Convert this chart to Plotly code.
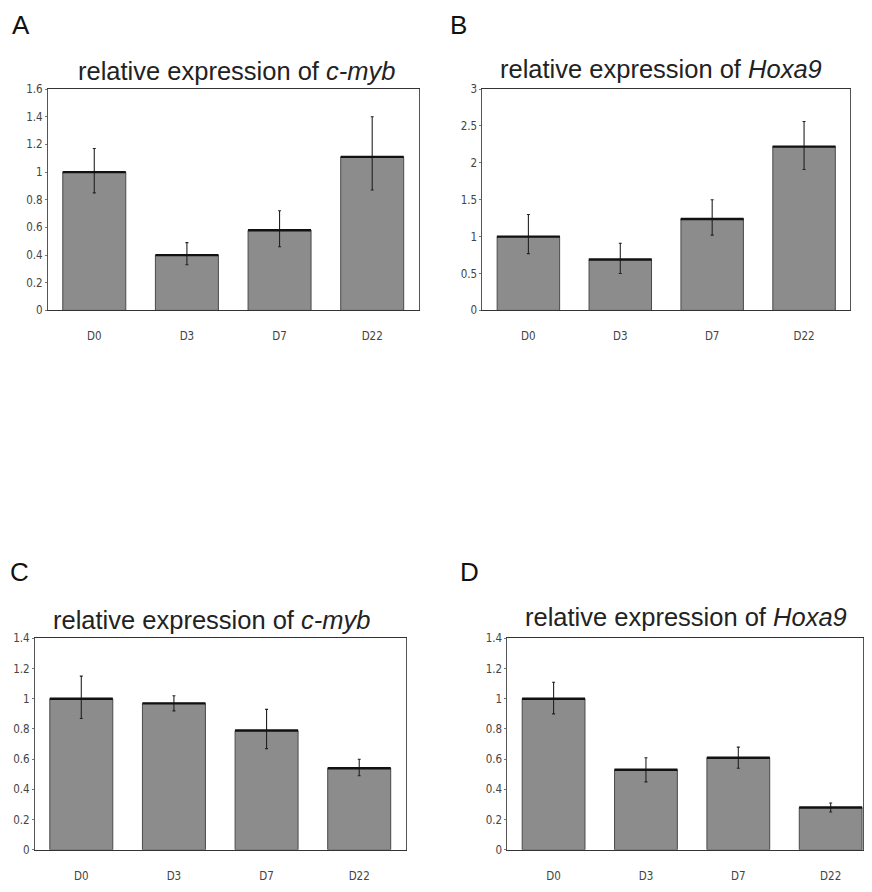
import plotly.graph_objects as go

# page offset from the default 8px body margin
OFF = 8
W, H = 872 - 2 * OFF, 892 - 2 * OFF
VS = 0.987  # empirical vertical correction

days = ["D0", "D3", "D7", "D22"]

# Panel A: c-myb
a_vals = [1.00, 0.40, 0.58, 1.11]
a_plus = [0.17, 0.09, 0.14, 0.29]
a_minus = [0.15, 0.07, 0.12, 0.24]
# Panel B: Hoxa9
b_vals = [1.00, 0.69, 1.24, 2.22]
b_plus = [0.30, 0.22, 0.26, 0.34]
b_minus = [0.23, 0.19, 0.22, 0.31]
# Panel C: c-myb
c_vals = [1.00, 0.97, 0.79, 0.54]
c_plus = [0.15, 0.05, 0.14, 0.06]
c_minus = [0.13, 0.05, 0.12, 0.05]
# Panel D: Hoxa9
d_vals = [1.00, 0.53, 0.61, 0.28]
d_plus = [0.11, 0.08, 0.07, 0.03]
d_minus = [0.10, 0.08, 0.07, 0.03]

a_ticks = [0, 0.2, 0.4, 0.6, 0.8, 1, 1.2, 1.4, 1.6]
b_ticks = [0, 0.5, 1, 1.5, 2, 2.5, 3]
cd_ticks = [0, 0.2, 0.4, 0.6, 0.8, 1, 1.2, 1.4]

titles = ["relative expression of <i>c-myb</i>", "relative expression of <i>Hoxa9</i>",
          "relative expression of <i>c-myb</i>", "relative expression of <i>Hoxa9</i>"]
letters = ["A", "B", "C", "D"]

def px(x):
    return (x - OFF) / W

def py(y):
    y = 446 + (y - 446) / VS
    return 1 - (y - OFF) / H

panels = [
    dict(vals=a_vals, plus=a_plus, minus=a_minus, ticks=a_ticks, yr=[0, 1.6],
         xd=[48, 419], yd=[88, 310], xr=[-0.5, 3.5], title=(237, 80), letter=(10, 24)),
    dict(vals=b_vals, plus=b_plus, minus=b_minus, ticks=b_ticks, yr=[0, 3],
         xd=[483, 851], yd=[88, 310], xr=[-0.5, 3.5], title=(662, 78), letter=(449, 24)),
    dict(vals=c_vals, plus=c_plus, minus=c_minus, ticks=cd_ticks, yr=[0, 1.4],
         xd=[35, 406], yd=[639, 851], xr=[-0.5, 3.5], title=(212, 631), letter=(8, 572)),
    dict(vals=d_vals, plus=d_plus, minus=d_minus, ticks=cd_ticks, yr=[0, 1.4],
         xd=[508, 864], yd=[639, 851], xr=[-0.5, 3.35], title=(687, 628), letter=(459, 572)),
]

fig = go.Figure()
annotations = []
tickfont = dict(family="DejaVu Sans Condensed, Liberation Sans, sans-serif", size=11.5, color="#444")

for i, p in enumerate(panels):
    n = "" if i == 0 else str(i + 1)
    fig.add_trace(go.Bar(
        x=days, y=p["vals"], xaxis="x" + n, yaxis="y" + n, width=0.68,
        marker=dict(color="#8c8c8c", line=dict(color="#4a4a4a", width=1)),
        error_y=dict(type="data", symmetric=False, array=p["plus"], arrayminus=p["minus"],
                     color="#222", thickness=1.1, width=1.5),
        showlegend=False, hoverinfo="skip",
    ))
    # thick dark top edge of each bar
    fig.add_trace(go.Scatter(
        x=days, y=p["vals"], xaxis="x" + n, yaxis="y" + n, mode="markers",
        marker=dict(symbol="line-ew", size=45, line=dict(color="#111", width=2.4)),
        showlegend=False, hoverinfo="skip", cliponaxis=True,
    ))
    fig.update_layout(**{
        "xaxis" + n: dict(domain=[px(p["xd"][0]), min(px(p["xd"][1]), 1)], anchor="y" + n,
                          range=p["xr"], showline=True, linecolor="#333", linewidth=1.2,
                          mirror=True, ticks="", tickfont=tickfont, ticklabelstandoff=15,
                          showgrid=False, zeroline=False, fixedrange=True),
        "yaxis" + n: dict(domain=[py(p["yd"][1]), py(p["yd"][0])], anchor="x" + n,
                          range=p["yr"], tickvals=p["ticks"],
                          ticktext=[("%g" % t) for t in p["ticks"]],
                          showline=True, linecolor="#555", linewidth=1, mirror=True,
                          ticks="outside", ticklen=2, tickcolor="#777",
                          tickfont=tickfont, showgrid=False, zeroline=False, fixedrange=True),
    })
    annotations.append(dict(x=px(p["title"][0]), y=py(p["title"][1]), xref="paper", yref="paper",
                            text=titles[i], showarrow=False, xanchor="center", yanchor="bottom",
                            yshift=-6,
                            font=dict(family="Liberation Sans", size=25.5, color="#222")))
    annotations.append(dict(x=px(p["letter"][0]), y=py(p["letter"][1]), xref="paper", yref="paper",
                            text=letters[i], showarrow=False, xanchor="left", yanchor="middle",
                            font=dict(family="Liberation Sans", size=26, color="#111")))

fig.update_layout(width=W, height=H, margin=dict(l=0, r=0, t=0, b=0),
                  paper_bgcolor="white", plot_bgcolor="white",
                  annotations=annotations, bargap=0.3)
fig.write_html("out.html")
